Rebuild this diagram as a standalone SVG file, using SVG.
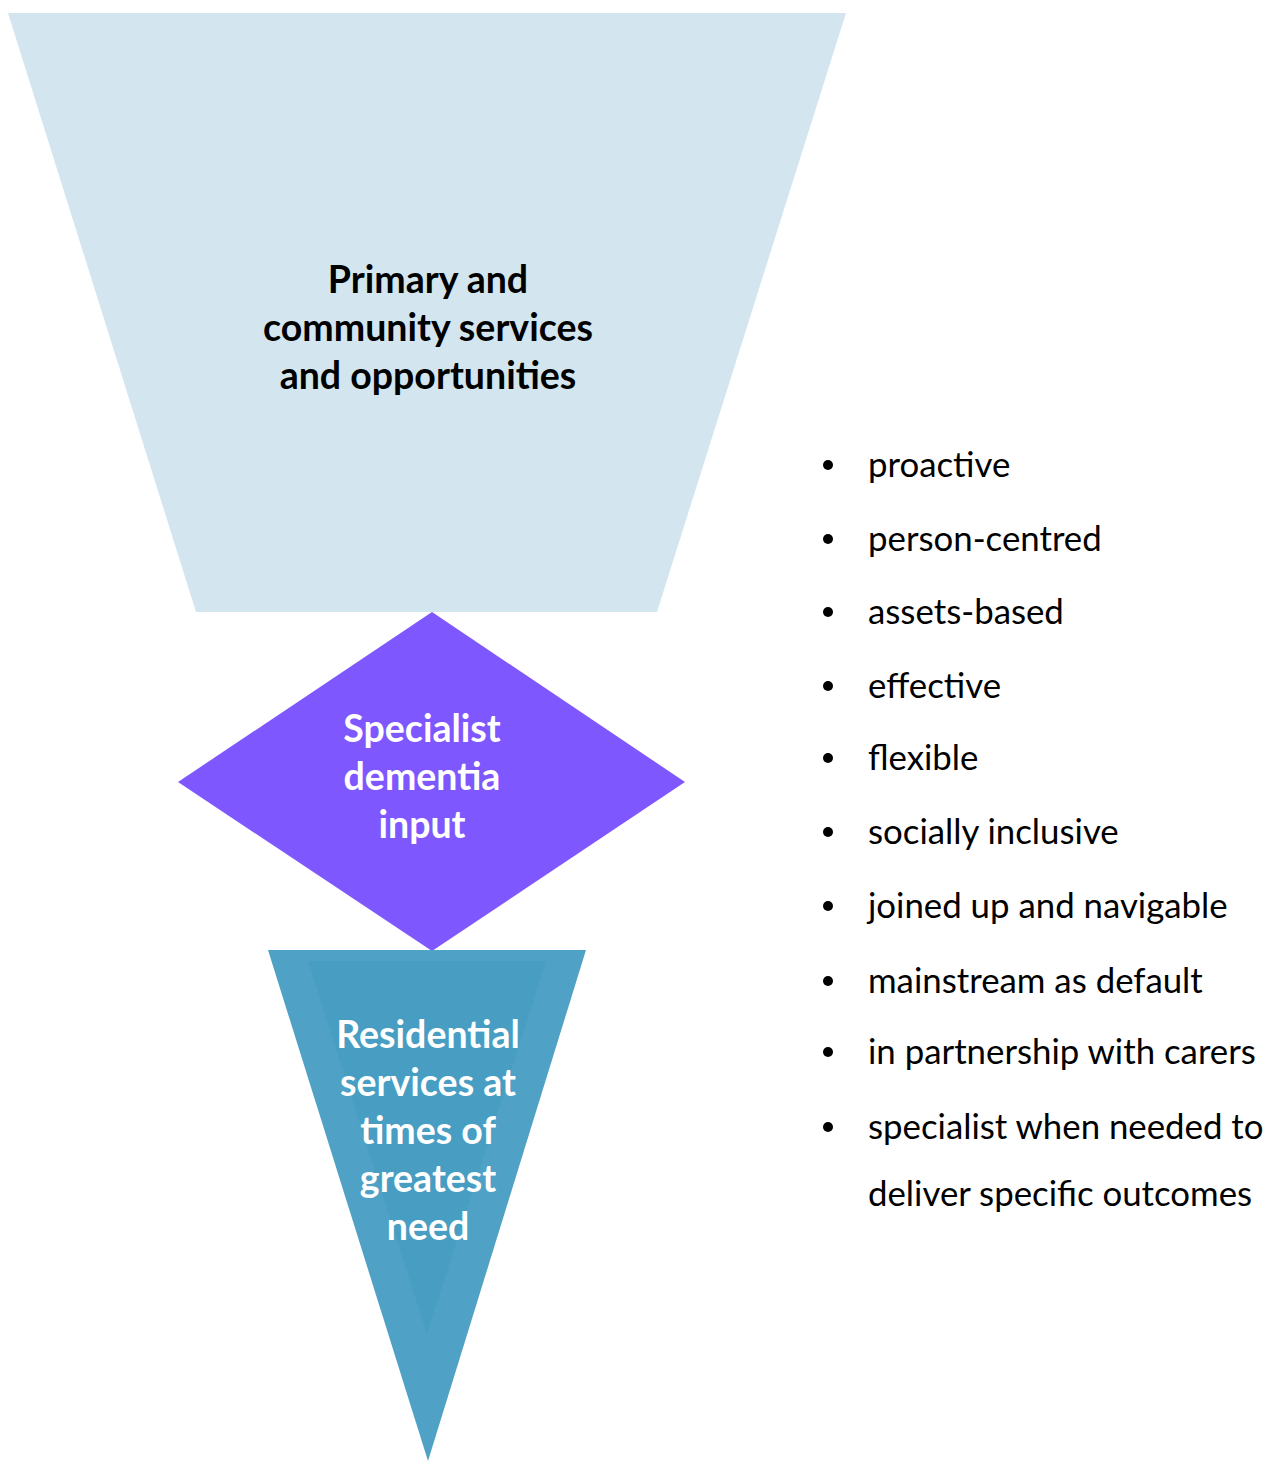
<svg xmlns="http://www.w3.org/2000/svg" width="1266" height="1461" viewBox="0 0 1266 1461">
  <style>
    .lbl { font-family: Lato, "Open Sans", "Liberation Sans", sans-serif; font-weight: bold; font-size: 37.5px; text-anchor: middle; }
    .dark { fill: #000000; }
    .light { fill: #FFFFFF; }
    .item { font-family: Lato, "Open Sans", "Liberation Sans", sans-serif; font-size: 34.8px; fill: #000000; }
    .dot { fill: #000000; }
  </style>
  <rect width="1266" height="1461" fill="#FFFFFF"/>

  <!-- Top funnel: primary and community services -->
  <g id="primary">
    <polygon points="8,13 846,13 657,612 196,612" fill="#D3E6EF"/>
    <text class="lbl dark" x="428" y="293">Primary and</text>
    <text class="lbl dark" x="428" y="341">community services</text>
    <text class="lbl dark" x="428" y="389">and opportunities</text>
  </g>

  <!-- Middle diamond: specialist dementia input -->
  <g id="specialist">
    <polygon points="432,612 685,782 432,951 178,782" fill="#7F57FF"/>
    <text class="lbl light" x="422" y="742">Specialist</text>
    <text class="lbl light" x="422" y="790">dementia</text>
    <text class="lbl light" x="422" y="838">input</text>
  </g>

  <!-- Bottom triangle: residential services -->
  <g id="residential">
    <polygon points="268,950 586,950 428,1461" fill="#4FA1C6"/>
    <polygon points="308,961 546,961 427,1334" fill="#479DC2"/>
    <text class="lbl light" x="428" y="1048">Residential</text>
    <text class="lbl light" x="428" y="1096">services at</text>
    <text class="lbl light" x="428" y="1144">times of</text>
    <text class="lbl light" x="428" y="1192">greatest</text>
    <text class="lbl light" x="428" y="1240">need</text>
  </g>

  <!-- Principles list -->
  <g id="principles">
    <circle class="dot" cx="828" cy="465" r="5"/>
    <text class="item" x="868" y="477">proactive</text>
    <circle class="dot" cx="828" cy="539" r="5"/>
    <text class="item" x="868" y="551">person-centred</text>
    <circle class="dot" cx="828" cy="612" r="5"/>
    <text class="item" x="868" y="624">assets-based</text>
    <circle class="dot" cx="828" cy="686" r="5"/>
    <text class="item" x="868" y="698">effective</text>
    <circle class="dot" cx="828" cy="758" r="5"/>
    <text class="item" x="868" y="770">flexible</text>
    <circle class="dot" cx="828" cy="832" r="5"/>
    <text class="item" x="868" y="844">socially inclusive</text>
    <circle class="dot" cx="828" cy="906" r="5"/>
    <text class="item" x="868" y="918">joined up and navigable</text>
    <circle class="dot" cx="828" cy="981" r="5"/>
    <text class="item" x="868" y="993">mainstream as default</text>
    <circle class="dot" cx="828" cy="1052" r="5"/>
    <text class="item" x="868" y="1064">in partnership with carers</text>
    <circle class="dot" cx="828" cy="1127" r="5"/>
    <text class="item" x="868" y="1139">specialist when needed to</text>
    <text class="item" x="868" y="1206">deliver specific outcomes</text>
  </g>

  <!-- No connectors are drawn between the shapes; they touch directly -->
  <g id="connectors"/>
</svg>
